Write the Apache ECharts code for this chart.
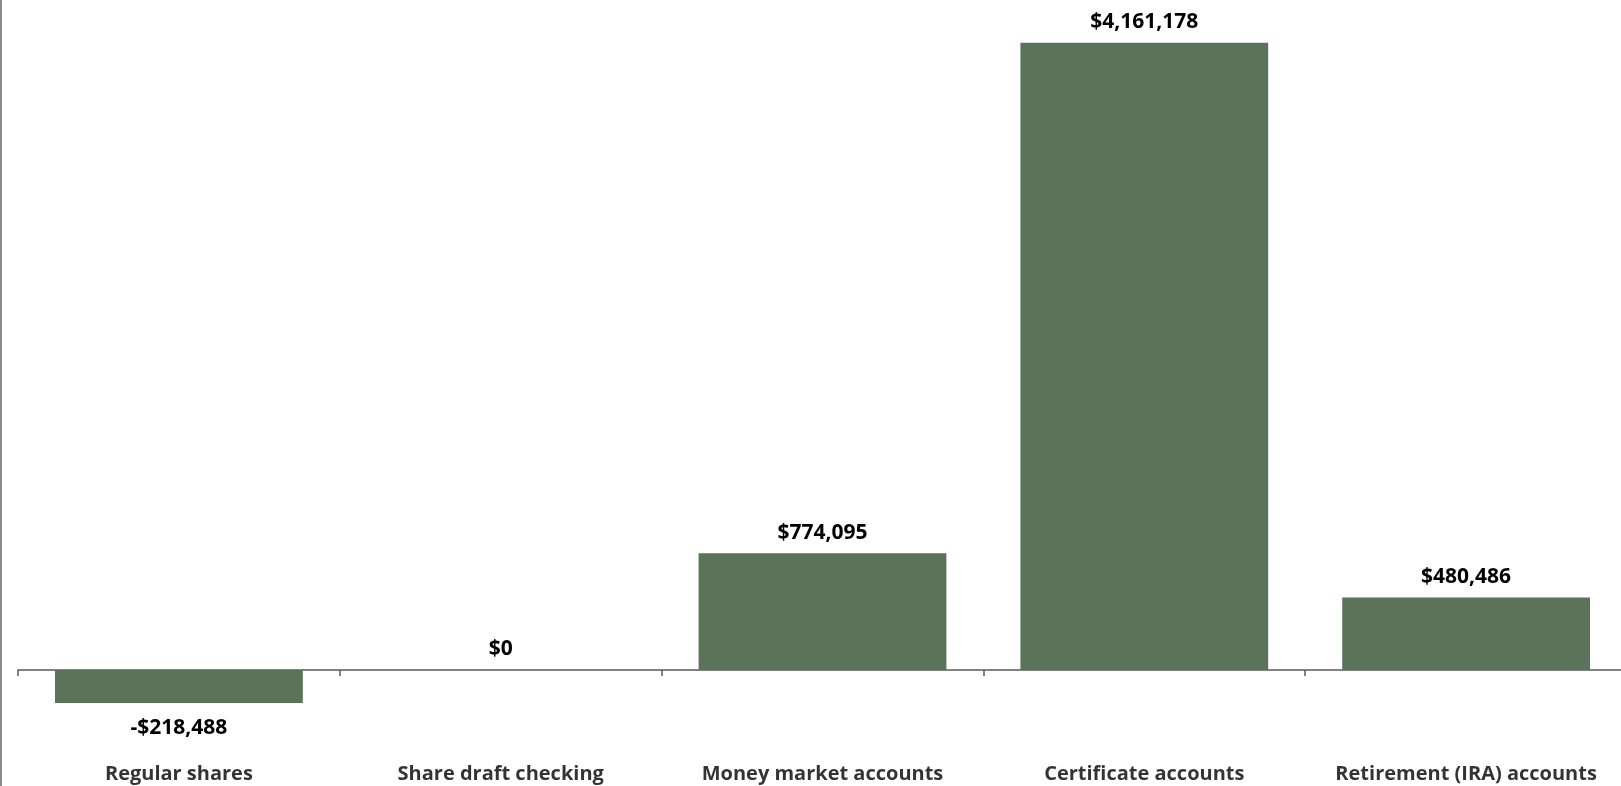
<!DOCTYPE html>
<html>
<head>
<meta charset="utf-8">
<script src="https://cdn.jsdelivr.net/npm/echarts@6/dist/echarts.min.js"></script>
<style>
  html, body { margin: 0; padding: 0; background: #fff; overflow: hidden; }
  #chart { width: 1640px; height: 800px; }
</style>
</head>
<body>
<div id="chart"></div>
<script>
// Change in share balances by account type
const categories = ['Regular shares', 'Share draft checking', 'Money market accounts', 'Certificate accounts', 'Retirement (IRA) accounts'];
const changeValues = [-218488, 0, 774095, 4161178, 480486];

const fmtMoney = v => (v < 0 ? '-$' : '$') + Math.abs(v).toLocaleString('en-US');
const labelFont = '"Open Sans", Lato, "DejaVu Sans", sans-serif';

const chart = echarts.init(document.getElementById('chart'), null, { renderer: 'canvas' });
chart.setOption({
  animation: false,
  backgroundColor: '#ffffff',
  grid: { left: 18, width: 1609, top: 6.7, height: 783.9, containLabel: false },
  xAxis: {
    type: 'category',
    data: categories,
    position: 'bottom',
    axisLine: { onZero: true, lineStyle: { color: '#595959', width: 1.5 } },
    axisTick: { show: true, length: 6, lineStyle: { color: '#595959', width: 1.5 } },
    axisLabel: { show: false }
  },
  yAxis: {
    type: 'value',
    min: -800000,
    max: 4400000,
    show: false,
    splitLine: { show: false }
  },
  series: [
    {
      type: 'bar',
      data: changeValues.map(v => v < 0
        ? { value: v, label: { position: 'bottom', distance: 15 } }
        : v),
      barWidth: '77%',
      itemStyle: { color: '#5A7359' },
      label: {
        show: true,
        position: 'top',
        distance: 10,
        formatter: p => fmtMoney(p.value),
        fontFamily: labelFont,
        fontWeight: 'bold',
        fontSize: 21,
        color: '#000'
      }
    },
    {
      // category names along the bottom edge
      type: 'scatter',
      data: categories.map(c => [c, -690000]),
      symbolSize: 0,
      silent: true,
      label: {
        show: true,
        position: 'inside',
        formatter: p => categories[p.dataIndex],
        fontFamily: labelFont,
        fontWeight: 'bold',
        fontSize: 20,
        color: '#000'
      }
    }
  ],
  graphic: [
    {
      type: 'line',
      shape: { x1: 1, y1: 0, x2: 1, y2: 800 },
      style: { stroke: '#8c8c8c', lineWidth: 2 }
    }
  ]
});
</script>
</body>
</html>
